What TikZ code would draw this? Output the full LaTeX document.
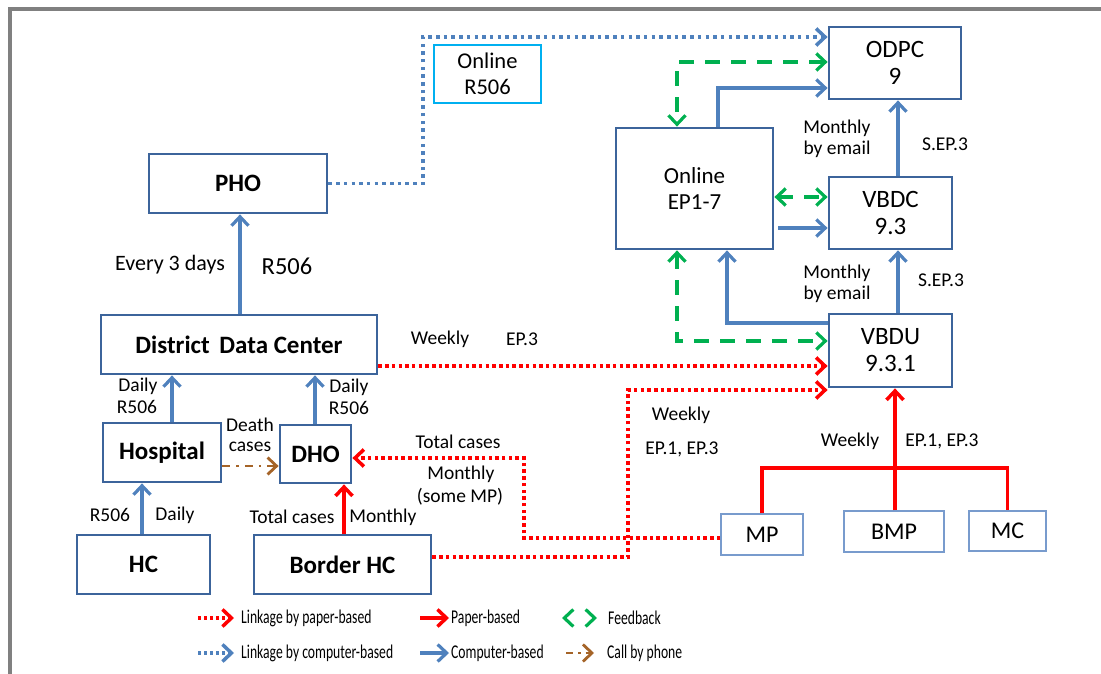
\documentclass[tikz,border=0pt]{standalone}
\usepackage{fontspec}
\setmainfont{Carlito}
\usetikzlibrary{arrows.meta,calc}
\definecolor{boxblue}{RGB}{60,100,155}
\definecolor{lnblue}{RGB}{79,129,189}
\definecolor{thinblue}{RGB}{120,155,205}
\definecolor{cyanb}{RGB}{0,176,240}
\definecolor{fbgreen}{RGB}{0,176,80}
\definecolor{phbrown}{RGB}{165,100,40}
\definecolor{framegray}{RGB}{128,128,128}
\begin{document}
\begin{tikzpicture}[x=1pt,y=-1pt,
  bbox/.style={draw=boxblue, line width=2.8pt, font=\fontsize{25}{28}\selectfont\bfseries, inner sep=0pt},
  mbox/.style={draw=boxblue, line width=2.8pt, font=\fontsize{25}{27}\selectfont, align=center, inner sep=0pt},
  tbox/.style={draw=thinblue, line width=1.5pt, font=\fontsize{24}{27}\selectfont, inner sep=0pt},
  lbl/.style={font=\fontsize{19.5}{21}\selectfont, inner sep=0pt, align=center},
  leg/.style={font=\fontsize{19.5}{21}\selectfont, inner sep=0pt, anchor=west},
  barb/.style={>={Straight Barb[length=9pt,width=17pt]}},
  comp/.style={draw=lnblue, line width=3.2pt, ->, barb},
  compline/.style={draw=lnblue, line width=3.2pt},
  paper/.style={draw=red, line width=3.5pt, ->, barb},
  paperline/.style={draw=red, line width=3.5pt},
  plink/.style={draw=red, line width=3.5pt, dash pattern=on 3.5pt off 3.2pt, ->, barb},
  clink/.style={draw=lnblue, line width=3.5pt, dash pattern=on 3.5pt off 4.2pt, ->, barb},
  fb/.style={draw=fbgreen, line width=3.2pt, dash pattern=on 15pt off 11pt, <->, barb},
  phone/.style={draw=phbrown, line width=2.8pt, dash pattern=on 8pt off 6pt on 2.5pt off 6pt, ->, barb},
]
\useasboundingbox (0,0) rectangle (1101,674);
% frame
\draw[framegray, line width=4pt] (10,674) -- (10,9) -- (1101,9);

% nodes
\node[bbox, minimum width=178, minimum height=59] (PHO) at (238,183.5) {PHO};
\node[bbox, minimum width=276, minimum height=59] (DDC) at (239,344.5) {District\hspace{4pt} Data Center};
\node[bbox, minimum width=118, minimum height=59] (Hosp) at (162,452.5) {Hospital};
\node[bbox, minimum width=71, minimum height=58] (DHO) at (315.5,454) {DHO};
\node[bbox, minimum width=133, minimum height=59] (HC) at (143.5,564.5) {HC};
\node[bbox, minimum width=177, minimum height=59] (BHC) at (342.5,564.5) {Border HC};
\node[draw=cyanb, line width=1.5pt, minimum width=107, minimum height=58, align=center, inner sep=0pt,
      font=\fontsize{22.5}{26}\selectfont] (OR) at (487.5,74) {Online\\R506};
\node[mbox, minimum width=132, minimum height=72] (ODPC) at (895,63) {ODPC\\9};
\node[mbox, minimum width=157, minimum height=121, font=\fontsize{23}{26}\selectfont] (OEP) at (694.5,188.5) {Online\\EP1-7};
\node[mbox, minimum width=123, minimum height=72] (VBDC) at (890.5,213) {VBDC\\9.3};
\node[mbox, minimum width=123, minimum height=73] (VBDU) at (890.5,350.5) {VBDU\\9.3.1};
\node[tbox, minimum width=82, minimum height=41] (MP) at (762,534.5) {MP};
\node[tbox, minimum width=100, minimum height=41] (BMP) at (894,531.5) {BMP};
\node[tbox, minimum width=77, minimum height=40] (MC) at (1007.5,531) {MC};

% connectors left part
\draw[comp] (DDC.north -| 240,0) -- (PHO.south -| 240,0);
\draw[comp] (Hosp.north -| 172,0) -- (DDC.south -| 172,0);
\draw[comp] (DHO.north -| 315,0) -- (DDC.south -| 315,0);
\draw[comp] (HC.north -| 142,0) -- (Hosp.south -| 142,0);
\draw[paper] (BHC.north -| 344,0) -- (DHO.south -| 344,0);
\draw[phone] (Hosp.east |- 0,466) -- (DHO.west |- 0,466);
\draw[plink] (MP.west |- 0,538) -| (524,458) -- (DHO.east |- 0,458);
\draw[plink] (BHC.east |- 0,557) -| (628,390) -- (VBDU.west |- 0,390);
\draw[plink] (DDC.east |- 0,366) -- (VBDU.west |- 0,366);

% tree from MP, BMP, MC
\coordinate (J) at (895,468);
\draw[paperline] (MP.north) |- (MC.north |- J) -- (MC.north);
\draw[paperline] (BMP.north -| J) -- (J);
\draw[paper] (J) -- (VBDU.south -| J);

% right part
\draw[clink] (PHO.east) -| (423,37) -- (ODPC.west |- 0,37);
\draw[comp] (OEP.north -| 718,0) |- (ODPC.west |- 0,88);
\draw[fb] (ODPC.west |- 0,62) -| (OEP.north -| 677,0);
\draw[fb] (OEP.east |- 0,197) -- (VBDC.west |- 0,197);
\draw[comp] ($(OEP.east |- 0,228)+(4,0)$) -- (VBDC.west |- 0,228);
\draw[comp] (VBDC.north -| 898,0) -- (ODPC.south -| 898,0);
\draw[comp] (VBDU.north -| 898,0) -- (VBDC.south -| 898,0);
\draw[comp] (VBDU.west |- 0,323) -| (OEP.south -| 727,0);
\draw[fb] (OEP.south -| 677,0) |- (VBDU.west |- 0,341);

% labels
\node[lbl, font=\fontsize{22}{24}\selectfont] at (170,265) {Every 3 days};
\node[lbl, font=\fontsize{24.5}{27}\selectfont] at (287,266) {R506};
\node[lbl] at (138,386) {Daily};
\node[lbl] at (137,407) {R506};
\node[lbl] at (349,387) {Daily};
\node[lbl] at (349,408) {R506};
\node[lbl] at (250,425) {Death};
\node[lbl] at (250,447) {cases};
\node[lbl] at (110,515) {R506};
\node[lbl] at (175,515) {Daily};
\node[lbl] at (292,517) {Total cases};
\node[lbl] at (383,517) {Monthly};
\node[lbl] at (458,442) {Total cases};
\node[lbl] at (461,474) {Monthly};
\node[lbl] at (460,497) {(some MP)};
\node[lbl] at (440,339) {Weekly};
\node[lbl] at (522,339) {EP.3};
\node[lbl] at (681,415) {Weekly};
\node[lbl] at (682,449) {EP.1, EP.3};
\node[lbl] at (850,441) {Weekly};
\node[lbl] at (942,441) {EP.1, EP.3};
\node[lbl] at (837,128) {Monthly};
\node[lbl] at (837,149) {by email};
\node[lbl] at (945,144) {S.EP.3};
\node[lbl] at (837,273) {Monthly};
\node[lbl] at (837,294) {by email};
\node[lbl] at (941,280) {S.EP.3};

% legend
\coordinate (La1) at (198,618); \coordinate (Lb1) at (234,618);
\coordinate (La2) at (198,653); \coordinate (Lb2) at (234,653);
\coordinate (Ma1) at (420,618); \coordinate (Mb1) at (449,618);
\coordinate (Ma2) at (420,653); \coordinate (Mb2) at (449,653);
\coordinate (Ra1) at (562,618); \coordinate (Rb1) at (597,618);
\coordinate (Ra2) at (566,653); \coordinate (Rb2) at (594,653);
\draw[plink, dash pattern=on 3pt off 3pt] (La1) -- (Lb1);
\draw[clink, dash pattern=on 3pt off 3pt] (La2) -- (Lb2);
\draw[paper] (Ma1) -- (Mb1);
\draw[comp] (Ma2) -- (Mb2);
\draw[fb, dash pattern=on 0pt off 40pt] (Ra1) -- (Rb1);
\draw[phone, dash pattern=on 7pt off 5pt on 2.5pt off 5pt] (Ra2) -- (Rb2);
\node[leg] at (241,618) {\scalebox{0.7}[1]{Linkage by paper-based}};
\node[leg] at (241,653) {\scalebox{0.7}[1]{Linkage by computer-based}};
\node[leg] at (451,618) {\scalebox{0.7}[1]{Paper-based}};
\node[leg] at (451,653) {\scalebox{0.7}[1]{Computer-based}};
\node[leg] at (608,618) {\scalebox{0.7}[1]{Feedback}};
\node[leg] at (607,653) {\scalebox{0.7}[1]{Call by phone}};
\end{tikzpicture}
\end{document}
